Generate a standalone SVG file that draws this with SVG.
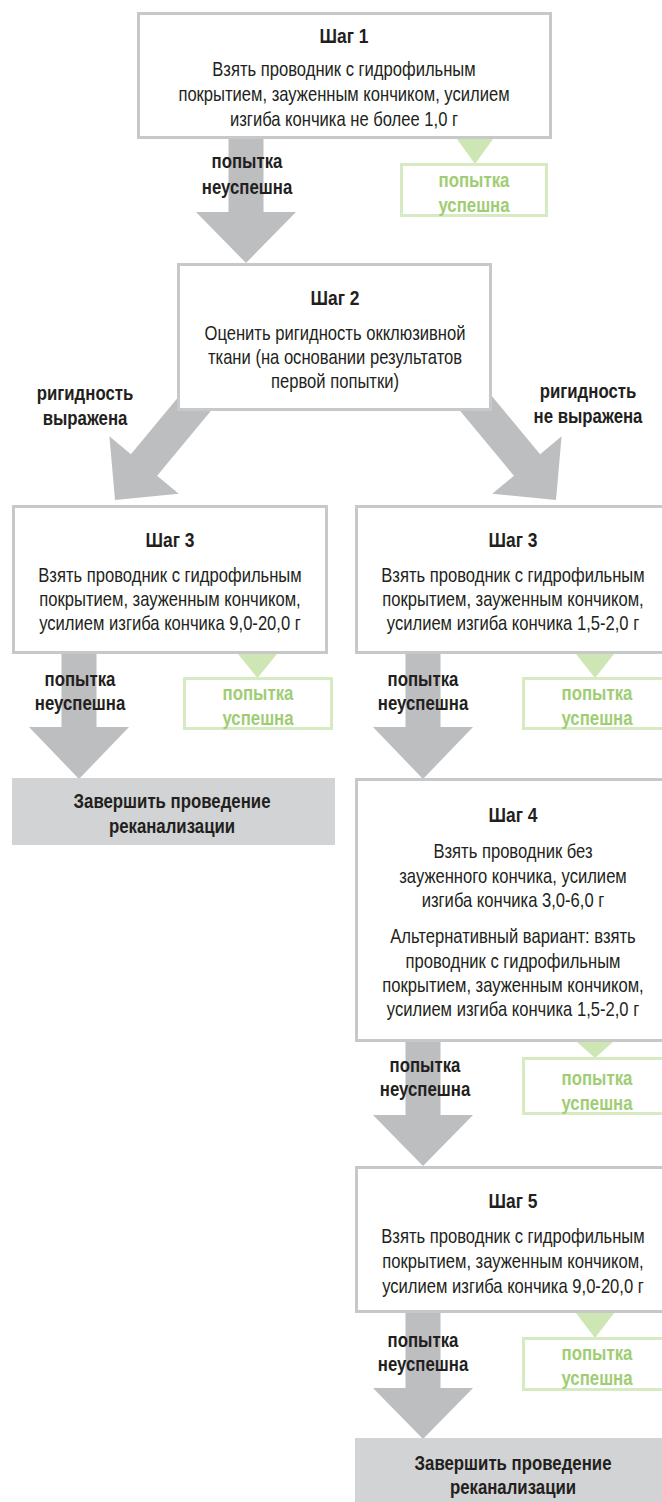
<svg xmlns="http://www.w3.org/2000/svg" width="662" height="1502" viewBox="0 0 662 1502">
<style>
.arrow{fill:#bcbec0}
.box{fill:#ffffff;stroke:#c7c8ca;stroke-width:3}
.end{fill:#d1d3d4}
.sbox{fill:#ffffff;stroke:#d7ebc3;stroke-width:3}
.tri{fill:#cde6b4}
text{font-family:'Liberation Sans',Arial,sans-serif;text-anchor:middle}
.h{font-size:21px;font-weight:bold;fill:#231f20}
.b{font-size:20px;fill:#231f20}
.l{font-size:21px;font-weight:bold;fill:#231f20}
.g{font-size:21px;font-weight:bold;fill:#a0cd74}
</style>
<g id="connectors">
<polygon class="arrow" points="228.5,130 263.5,130 263.5,212 296,212 246,263 196,212 228.5,212"/>
<polygon class="arrow" points="188.3,385 130.9,454.2 109.4,436.3 115,500 178.7,493.7 157.1,475.8 214.5,406.5"/>
<polygon class="arrow" points="482.7,385 540.1,454.2 561.6,436.3 556,500 492.3,493.7 513.9,475.8 456.5,406.5"/>
<polygon class="arrow" points="61.5,645 96.5,645 96.5,727 129,727 79,779 29,727 61.5,727"/>
<polygon class="arrow" points="405.5,645 440.5,645 440.5,727 473,727 423,779 373,727 405.5,727"/>
<polygon class="arrow" points="405.5,1035 440.5,1035 440.5,1115 473,1115 423,1166 373,1115 405.5,1115"/>
<polygon class="arrow" points="405.5,1305 440.5,1305 440.5,1388 473,1388 423,1439 373,1388 405.5,1388"/>
<polygon class="tri" points="457,139 493,139 475,164"/>
<polygon class="tri" points="238,654 277,654 257.5,678"/>
<polygon class="tri" points="576,654 614,654 595,678"/>
<polygon class="tri" points="577,1042 613,1042 595,1058"/>
<polygon class="tri" points="576,1313 614,1313 595,1338"/>
</g>
<g id="step1">
<rect class="box" x="138.5" y="13.5" width="412" height="124"/>
<g transform="translate(344,0) scale(0.83,1)">
<text class="h" x="0" y="43">Шаг 1</text>
<text class="b" x="0" y="76">Взять проводник с гидрофильным</text>
<text class="b" x="0" y="101">покрытием, зауженным кончиком, усилием</text>
<text class="b" x="0" y="126">изгиба кончика не более 1,0 г</text>
</g>
</g>
<g id="fail1" transform="translate(247,0) scale(0.8,1)"><text class="l" x="0" y="168">попытка</text><text class="l" x="0" y="194">неуспешна</text></g>
<g id="success1">
<rect class="sbox" x="401.5" y="164.5" width="145" height="51"/>
<g transform="translate(474,0) scale(0.8,1)"><text class="g" x="0" y="187">попытка</text><text class="g" x="0" y="212">успешна</text></g>
</g>
<g id="step2">
<rect class="box" x="178.5" y="264.5" width="312" height="145"/>
<g transform="translate(335,0) scale(0.83,1)">
<text class="h" x="0" y="305">Шаг 2</text>
<text class="b" x="0" y="340">Оценить ригидность окклюзивной</text>
<text class="b" x="0" y="364">ткани (на основании результатов</text>
<text class="b" x="0" y="388">первой попытки)</text>
</g>
</g>
<g id="label-left" transform="translate(85,0) scale(0.8,1)"><text class="l" x="0" y="400">ригидность</text><text class="l" x="0" y="425">выражена</text></g>
<g id="label-right" transform="translate(588,0) scale(0.8,1)"><text class="l" x="0" y="398">ригидность</text><text class="l" x="0" y="423">не выражена</text></g>
<g id="step3-left">
<rect class="box" x="13.5" y="506.5" width="313" height="146"/>
<g transform="translate(170,0) scale(0.83,1)">
<text class="h" x="0" y="547">Шаг 3</text>
<text class="b" x="0" y="582">Взять проводник с гидрофильным</text>
<text class="b" x="0" y="606">покрытием, зауженным кончиком,</text>
<text class="b" x="0" y="630">усилием изгиба кончика 9,0-20,0 г</text>
</g>
</g>
<g id="fail3-left" transform="translate(80,0) scale(0.8,1)"><text class="l" x="0" y="686">попытка</text><text class="l" x="0" y="710">неуспешна</text></g>
<g id="success3-left">
<rect class="sbox" x="184.5" y="678.5" width="147" height="50"/>
<g transform="translate(258,0) scale(0.8,1)"><text class="g" x="0" y="700">попытка</text><text class="g" x="0" y="725">успешна</text></g>
</g>
<g id="end-left">
<rect class="end" x="12" y="778" width="323" height="67"/>
<g transform="translate(172,0) scale(0.8,1)">
<text class="l" x="0" y="808">Завершить проведение</text>
<text class="l" x="0" y="833">реканализации</text>
</g>
</g>
<g id="step3-right">
<rect class="box" x="356.5" y="506.5" width="313" height="146"/>
<g transform="translate(513,0) scale(0.83,1)">
<text class="h" x="0" y="547">Шаг 3</text>
<text class="b" x="0" y="582">Взять проводник с гидрофильным</text>
<text class="b" x="0" y="606">покрытием, зауженным кончиком,</text>
<text class="b" x="0" y="630">усилием изгиба кончика 1,5-2,0 г</text>
</g>
</g>
<g id="fail3-right" transform="translate(423,0) scale(0.8,1)"><text class="l" x="0" y="686">попытка</text><text class="l" x="0" y="710">неуспешна</text></g>
<g id="success3-right">
<rect class="sbox" x="523.5" y="678.5" width="147" height="50"/>
<g transform="translate(597,0) scale(0.8,1)"><text class="g" x="0" y="700">попытка</text><text class="g" x="0" y="725">успешна</text></g>
</g>
<g id="step4">
<rect class="box" x="356.5" y="779.5" width="313" height="261"/>
<g transform="translate(513,0) scale(0.83,1)">
<text class="h" x="0" y="822">Шаг 4</text>
<text class="b" x="0" y="858">Взять проводник без</text>
<text class="b" x="0" y="883">зауженного кончика, усилием</text>
<text class="b" x="0" y="907">изгиба кончика 3,0-6,0 г</text>
<text class="b" x="0" y="943">Альтернативный вариант: взять</text>
<text class="b" x="0" y="968">проводник с гидрофильным</text>
<text class="b" x="0" y="992">покрытием, зауженным кончиком,</text>
<text class="b" x="0" y="1016">усилием изгиба кончика 1,5-2,0 г</text>
</g>
</g>
<g id="fail4" transform="translate(425,0) scale(0.8,1)"><text class="l" x="0" y="1072">попытка</text><text class="l" x="0" y="1096">неуспешна</text></g>
<g id="success4">
<rect class="sbox" x="523.5" y="1058.5" width="147" height="55"/>
<g transform="translate(597,0) scale(0.8,1)"><text class="g" x="0" y="1085">попытка</text><text class="g" x="0" y="1110">успешна</text></g>
</g>
<g id="step5">
<rect class="box" x="356.5" y="1167.5" width="313" height="144"/>
<g transform="translate(513,0) scale(0.83,1)">
<text class="h" x="0" y="1208">Шаг 5</text>
<text class="b" x="0" y="1243">Взять проводник с гидрофильным</text>
<text class="b" x="0" y="1268">покрытием, зауженным кончиком,</text>
<text class="b" x="0" y="1293">усилием изгиба кончика 9,0-20,0 г</text>
</g>
</g>
<g id="fail5" transform="translate(423,0) scale(0.8,1)"><text class="l" x="0" y="1347">попытка</text><text class="l" x="0" y="1371">неуспешна</text></g>
<g id="success5">
<rect class="sbox" x="523.5" y="1338.5" width="147" height="51"/>
<g transform="translate(597,0) scale(0.8,1)"><text class="g" x="0" y="1360">попытка</text><text class="g" x="0" y="1385">успешна</text></g>
</g>
<g id="end-right">
<rect class="end" x="355" y="1438" width="317" height="70"/>
<g transform="translate(513,0) scale(0.8,1)">
<text class="l" x="0" y="1470">Завершить проведение</text>
<text class="l" x="0" y="1494">реканализации</text>
</g>
</g>
</svg>
